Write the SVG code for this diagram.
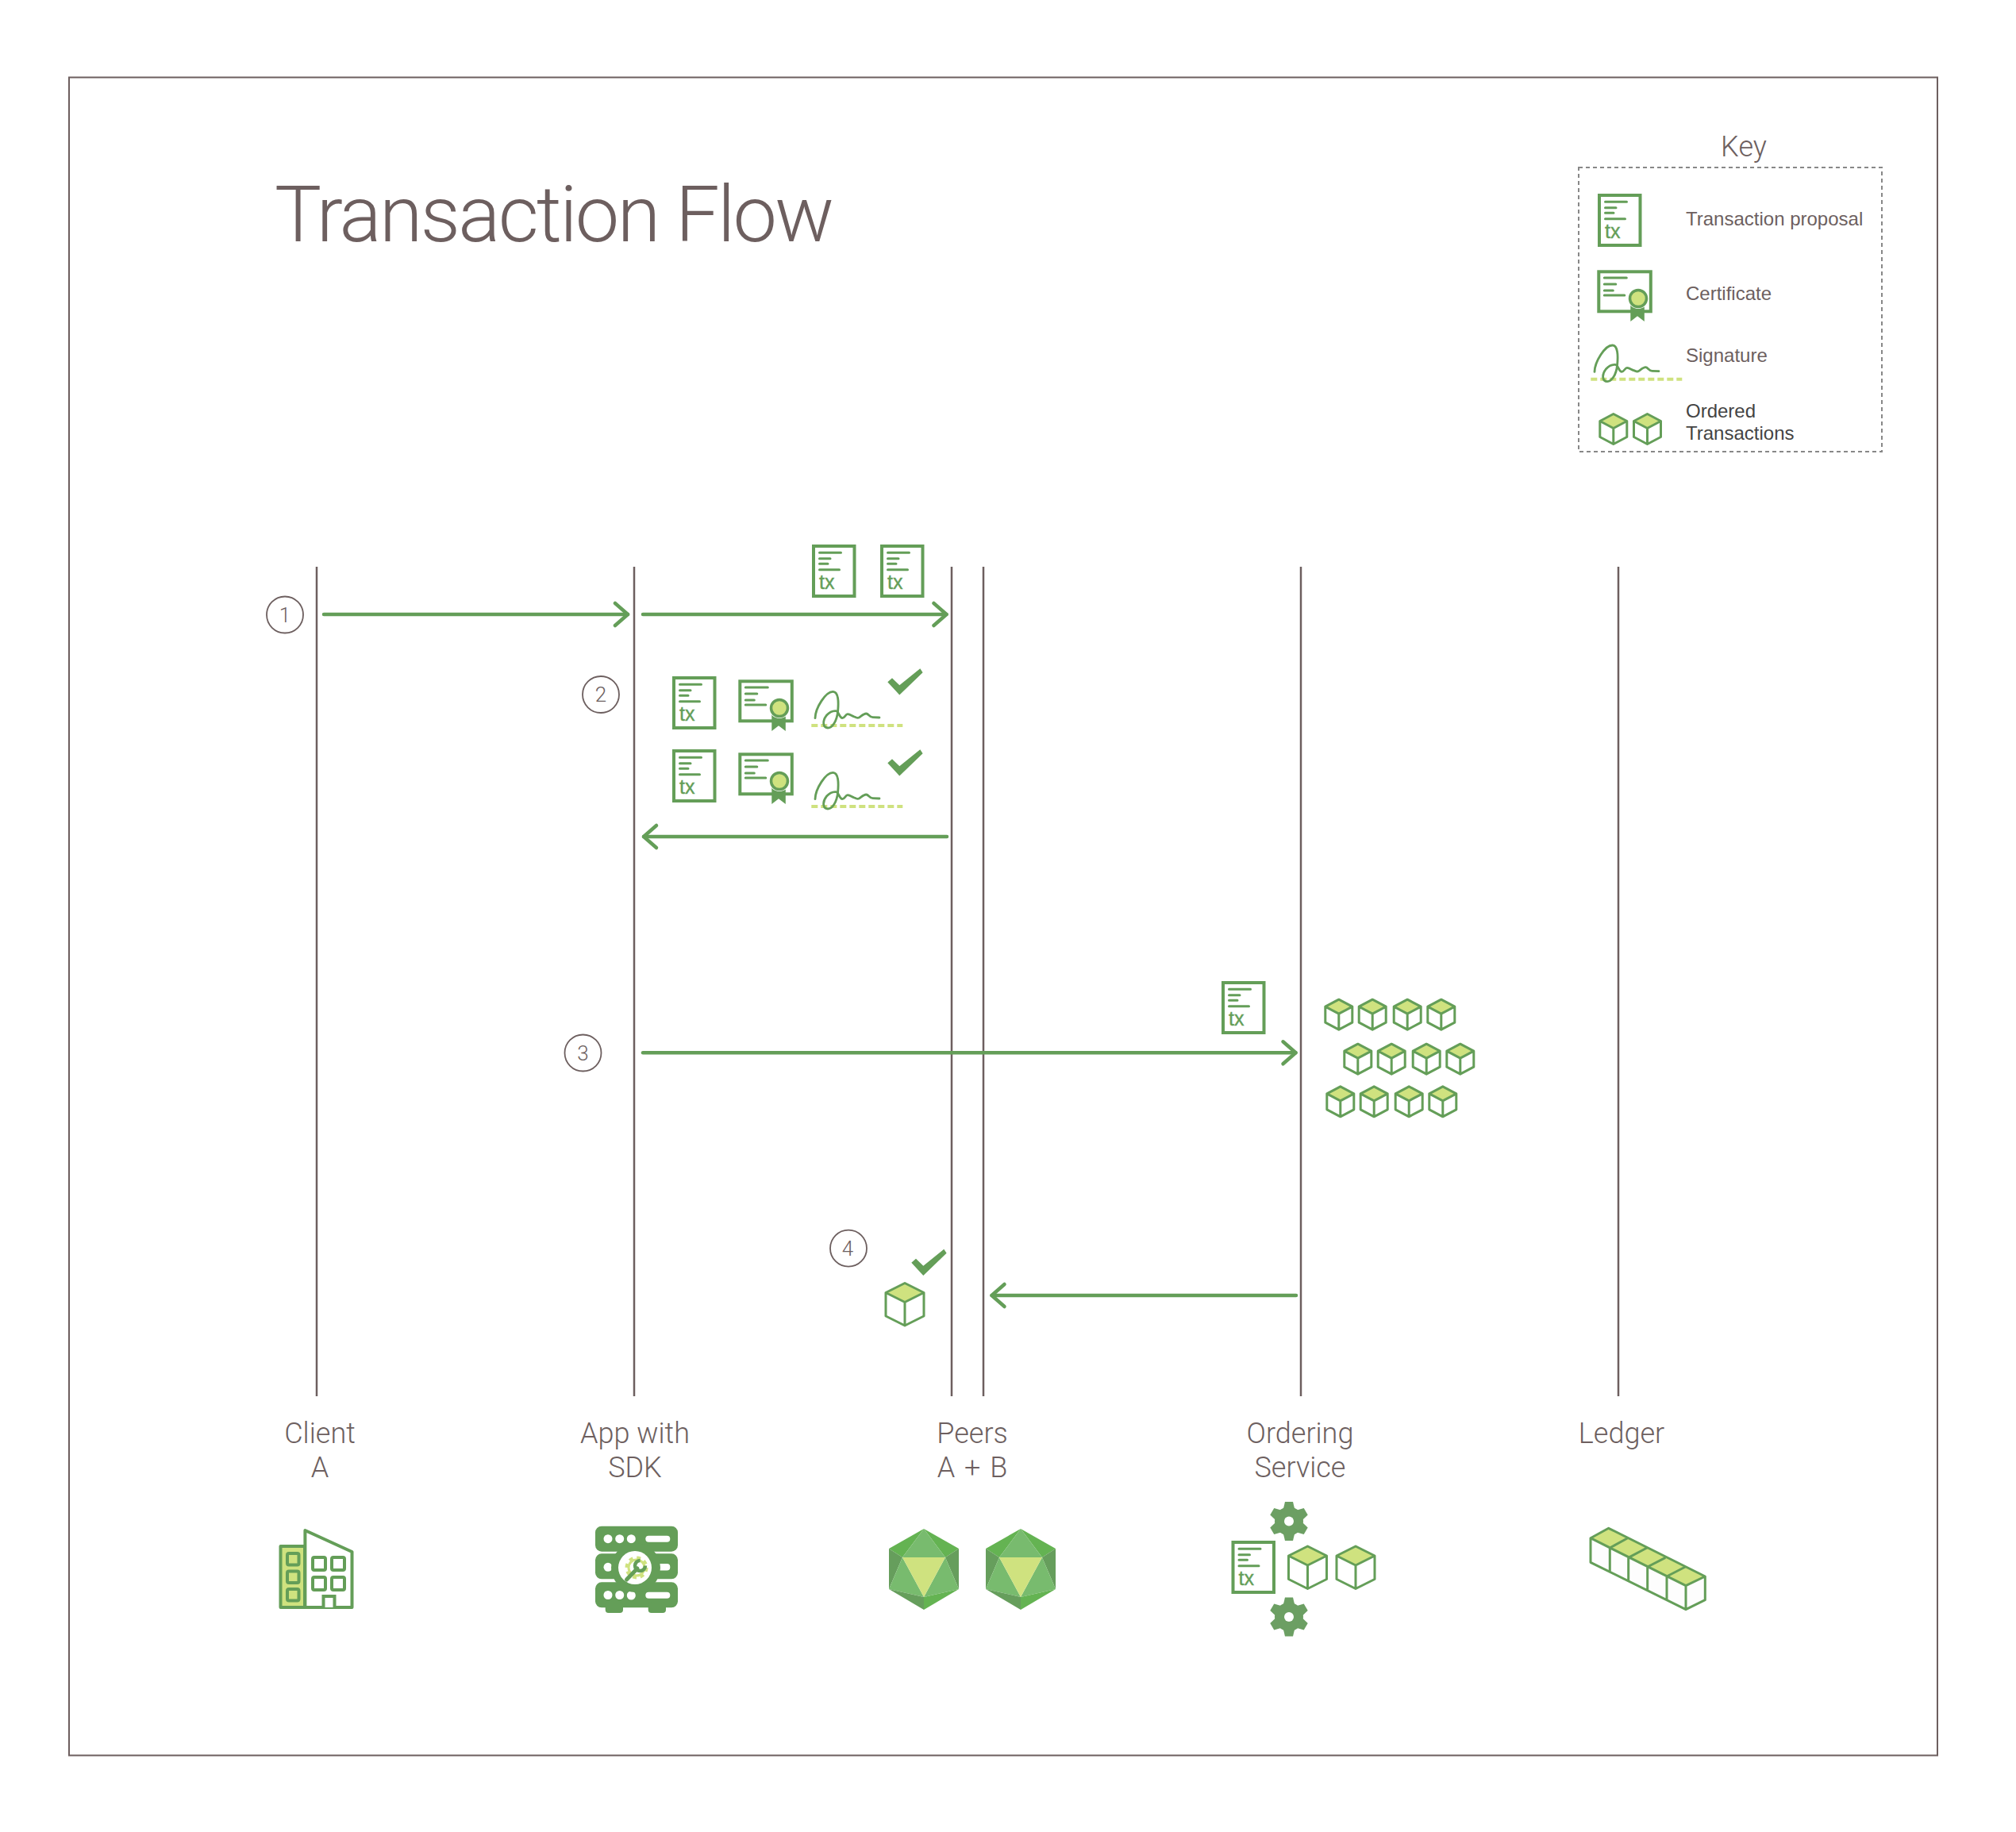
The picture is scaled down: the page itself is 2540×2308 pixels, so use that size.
<svg xmlns="http://www.w3.org/2000/svg" width="2540" height="2308" viewBox="0 0 2540 2308">
<style>
.lt{font-family:Roboto,"Liberation Sans",sans-serif;font-weight:300;fill:#6d5f5f}
.lab{font-size:36px;text-anchor:middle}
.key{font-family:"Liberation Sans",Arial,sans-serif;font-size:24px;fill:#6d5f5f}
.tx{font-family:"Liberation Sans",Arial,sans-serif;font-size:25px;fill:#649e58;stroke:#649e58;stroke-width:.4}
.num{font-size:26px;text-anchor:middle}
.life{stroke:#6d5f5f;stroke-width:2.5;fill:none}
.msg{stroke:#649e58;stroke-width:4.5;fill:none;stroke-linecap:round;marker-end:url(#arr)}
.ring{fill:#fff;stroke:#6d5f5f;stroke-width:1.8}
.s{fill:none;stroke:#649e58;stroke-width:4}
.t{fill:none;stroke:#649e58;stroke-width:3;stroke-linecap:round}
.g{fill:#649e58}
.w{fill:#fff}
.y{fill:#cfe27f}
</style>
<defs>
<marker id="arr" markerUnits="userSpaceOnUse" markerWidth="24" markerHeight="36" refX="20" refY="18" orient="auto" overflow="visible"><path d="M4,4 L20,18 L4,32" fill="none" stroke="#649e58" stroke-width="4.500" stroke-linecap="round" stroke-linejoin="round"/></marker>
<g id="txdoc"><rect x="2" y="2" width="51.500" height="63" class="s" fill="#fff"/><path class="t" d="M9.500,10.300H36.500M9.500,17.700H23M9.500,24.300H20M9.500,31.700H34.500"/></g>
<g id="cert"><rect x="2" y="2" width="65.500" height="50" class="s"/><path class="t" d="M9,9.700H37M9,17.700H23.500M9,25.700H20M9,31.700H34.500"/><path class="g" d="M42,40H59.500V64.700L50.700,58L42,64.700Z"/><circle cx="51.700" cy="35.700" r="13" class="w"/><circle cx="51.700" cy="35.700" r="10.500" class="y" stroke="#649e58" stroke-width="3.500"/></g>
<g id="sig"><path d="M0,0H115" fill="none" stroke="#cfe27f" stroke-width="4" stroke-dasharray="8 4"/><path fill="none" stroke="#649e58" stroke-width="2.800" stroke-linecap="round" d="M4.700,-9.300C5,-22 18,-43 27.300,-42.700C34,-42.500 34.500,-30 33.300,-17.700C32,-5 26,3 20.700,3C15,3 13,-5 19,-12.700C22,-16 27,-18.500 30.700,-18.300C35,-18 35,-9.500 39,-9.300C42,-9.300 43,-14.500 45.700,-14.300C49,-14 51,-12 54,-11C57,-10 58,-9 60,-10C63,-12 66,-15 69,-15C72,-15 73,-10.500 77.300,-10.300L85.700,-10"/></g>
<path id="chk" class="g" d="M0,0L5.700,-5L15,4L41,-17L44.300,-12L15,16.300Z"/>
<g id="cs"><path class="w" d="M18.500,1.500L35.500,10.500V30.500L18.500,39.500L1.500,30.500V10.500Z"/><path class="y" d="M18.500,1.500L35.500,10.500L18.500,19.500L1.500,10.500Z"/><path fill="none" stroke="#649e58" stroke-width="3" stroke-linejoin="round" d="M18.500,1.500L35.500,10.500V30.500L18.500,39.500L1.500,30.500V10.500ZM1.500,10.500L18.500,19.500L35.500,10.500M18.500,19.500V39.500"/></g>
<g id="cl"><path class="w" d="M25,1.500L49,13.500V43L25,55L1,43V13.500Z"/><path class="y" d="M25,1.500L49,13.500L25,25.500L1,13.500Z"/><path fill="none" stroke="#649e58" stroke-width="3" stroke-linejoin="round" d="M25,1.500L49,13.500V43L25,55L1,43V13.500ZM1,13.500L25,25.500L49,13.500M25,25.500V55"/></g>
<polygon id="tooth" points="-7.500,-14 -5,-24.500 5,-24.500 7.500,-14" fill="#6c9f63"/>
<g id="gear"><circle r="18" fill="#6c9f63"/><use href="#tooth"/><use href="#tooth" transform="rotate(60)"/><use href="#tooth" transform="rotate(120)"/><use href="#tooth" transform="rotate(180)"/><use href="#tooth" transform="rotate(240)"/><use href="#tooth" transform="rotate(300)"/><circle r="6" class="w"/></g>
<g id="peer"><path fill="#64b352" d="M0,0L-44,25L-27,36ZM0,0L44,25L27,36Z"/><path fill="#78bb6e" d="M0,0L27,36H-27Z"/><path fill="#669e5c" d="M-44,25L-27,36L-44,76ZM44,25L27,36L44,76Z"/><path fill="#78bb6e" d="M-27,36L0,86L-44,76ZM27,36L0,86L44,76Z"/><path fill="#cfe27f" d="M-27,36H27L0,86Z"/><path fill="#669e5c" d="M-44,76L0,86V102Z"/><path fill="#64b352" d="M44,76L0,86V102Z"/></g>
</defs>
<rect id="frame" x="87" y="97.500" width="2354" height="2114" fill="#fff" stroke="#6d5f5f" stroke-width="2"/>
<text class="lt" x="346" y="304" font-size="99" textLength="705" lengthAdjust="spacing">Transaction Flow</text>

<g id="key">
<text class="lt" x="2197" y="197" font-size="36" text-anchor="middle">Key</text>
<rect x="1989" y="211" width="382" height="358" fill="none" stroke="#888" stroke-width="2" stroke-dasharray="5 4"/>
<use href="#txdoc" x="2013" y="244"/><text class="tx" x="2022" y="300">tx</text>
<text class="key" x="2124" y="284">Transaction proposal</text>
<use href="#cert" x="2012.300" y="340.300"/>
<text class="key" x="2124" y="378">Certificate</text>
<use href="#sig" x="2004.300" y="477.700"/>
<text class="key" x="2124" y="456">Signature</text>
<use href="#cs" x="2014.300" y="520"/><use href="#cs" x="2057" y="520"/>
<text class="key" x="2124" y="526" style="fill:#444">Ordered</text>
<text class="key" x="2124" y="554" style="fill:#444">Transactions</text>
</g>

<g id="connectors">
<path class="life" d="M399,714V1759M799,714V1759M1199,714V1759M1239,714V1759M1639,714V1759M2039,714V1759"/>
<path class="msg" d="M408,774H791"/>
<path class="msg" d="M810,774H1192.500"/>
<path class="msg" d="M1193,1054H811"/>
<path class="msg" d="M810,1326.300H1632.500"/>
<path class="msg" d="M1633,1632H1249.500"/>
</g>

<g id="step-1"><circle class="ring" cx="359" cy="774.500" r="23"/><text class="lt num" x="359" y="783.500">1</text></g>
<g id="step-2"><circle class="ring" cx="757" cy="875" r="23"/><text class="lt num" x="757" y="884">2</text></g>
<g id="step-3"><circle class="ring" cx="734.500" cy="1326.500" r="23"/><text class="lt num" x="734.500" y="1335.500">3</text></g>
<g id="step-4"><circle class="ring" cx="1069" cy="1572.700" r="23"/><text class="lt num" x="1068" y="1581.700">4</text></g>

<g id="msg-1-proposals">
<use href="#txdoc" x="1023" y="686"/><text class="tx" x="1032" y="742">tx</text>
<use href="#txdoc" x="1109" y="686"/><text class="tx" x="1118" y="742">tx</text>
</g>
<g id="msg-2-endorsements">
<use href="#txdoc" x="847" y="852"/><text class="tx" x="856" y="908">tx</text>
<use href="#cert" x="930.300" y="856.300"/><use href="#sig" x="1022.300" y="914"/><use href="#chk" x="1118.300" y="859.300"/>
<use href="#txdoc" x="847" y="944"/><text class="tx" x="856" y="1000">tx</text>
<use href="#cert" x="930.300" y="948.300"/><use href="#sig" x="1022.300" y="1016"/><use href="#chk" x="1118.300" y="961.300"/>
</g>
<g id="msg-3-ordering">
<use href="#txdoc" x="1539" y="1236"/><text class="tx" x="1548" y="1292">tx</text>
<use href="#cs" x="1668.300" y="1257.700"/><use href="#cs" x="1710.700" y="1257.700"/><use href="#cs" x="1754.700" y="1257.700"/><use href="#cs" x="1797.300" y="1257.700"/>
<use href="#cs" x="1692.300" y="1313.700"/><use href="#cs" x="1734.700" y="1313.700"/><use href="#cs" x="1778.700" y="1313.700"/><use href="#cs" x="1821.300" y="1313.700"/>
<use href="#cs" x="1670.300" y="1367.300"/><use href="#cs" x="1712.700" y="1367.300"/><use href="#cs" x="1756.700" y="1367.300"/><use href="#cs" x="1799.300" y="1367.300"/>
</g>
<g id="msg-4-block">
<use href="#chk" x="1148.300" y="1590.700"/><use href="#cl" x="1115" y="1615"/>
</g>

<g id="client">
<text class="lt lab" x="403" y="1818">Client</text><text class="lt lab" x="403" y="1861">A</text>
<path d="M353.500,1948H384V2025H353.500Z" class="y" stroke="#649e58" stroke-width="4" stroke-linejoin="round"/>
<path d="M384.400,1928L443.500,1955V2025H384.400Z" fill="#fff" stroke="#649e58" stroke-width="4" stroke-linejoin="round"/>
<g class="y" stroke="#649e58" stroke-width="4"><rect x="362" y="1957" width="14.500" height="14.500" rx="2"/><rect x="362" y="1979.500" width="14.500" height="14.500" rx="2"/><rect x="362" y="2002" width="14.500" height="14.500" rx="2"/></g>
<g fill="#fff" stroke="#649e58" stroke-width="4"><rect x="394" y="1962" width="16" height="16" rx="2"/><rect x="418" y="1962" width="16" height="16" rx="2"/><rect x="394" y="1987" width="16" height="16" rx="2"/><rect x="418" y="1987" width="16" height="16" rx="2"/><path d="M407.500,2025V2011H421.500V2025"/></g>
</g>

<g id="app">
<text class="lt lab" x="800" y="1818">App with</text><text class="lt lab" x="800" y="1861">SDK</text>
<g class="g"><rect x="750" y="1922.700" width="104" height="32" rx="8"/><rect x="750" y="1957.300" width="104" height="32" rx="8"/><rect x="750" y="1993.300" width="104" height="32" rx="8"/><rect x="762.700" y="2018" width="22.300" height="14" rx="4"/><rect x="816.700" y="2018" width="22.300" height="14" rx="4"/></g>
<g class="w"><circle cx="766" cy="1938.700" r="5.500"/><circle cx="780.700" cy="1938.700" r="5.500"/><circle cx="795.300" cy="1938.700" r="5.500"/><rect x="813.300" y="1934.700" width="31" height="8" rx="4"/><circle cx="766" cy="1974.300" r="5.500"/><rect x="820" y="1970" width="24.300" height="8.500" rx="4"/><circle cx="766" cy="2009.500" r="5.500"/><circle cx="780.700" cy="2009.500" r="5.500"/><circle cx="795.300" cy="2010" r="5.500"/><rect x="813.300" y="2005.700" width="31" height="8" rx="4"/></g>
<circle cx="801" cy="1975" r="31" fill="#649e58"/><circle cx="800" cy="1975" r="21" class="w"/>
<circle cx="802" cy="1975" r="12" fill="none" stroke="#cfe27f" stroke-width="5" stroke-dasharray="4.700 4.700"/>
<circle cx="802" cy="1975" r="10" fill="none" stroke="#cfe27f" stroke-width="3"/>
<path d="M789.500,1990L803,1976" stroke="#649e58" stroke-width="5" stroke-linecap="round"/>
<path d="M806.500,1966A6.500,6.500 0 1 0 813,1972.500" fill="none" stroke="#649e58" stroke-width="4.500"/>
</g>

<g id="peers">
<text class="lt lab" x="1225" y="1818">Peers</text><text class="lt lab" x="1225" y="1861" word-spacing="3">A + B</text>
<use href="#peer" x="1164" y="1926"/><use href="#peer" x="1286" y="1926"/>
</g>

<g id="ordering">
<text class="lt lab" x="1638" y="1818">Ordering</text><text class="lt lab" x="1638" y="1861">Service</text>
<use href="#gear" x="1624" y="1916.500"/><use href="#gear" x="1624" y="2037"/>
<use href="#txdoc" x="1551.500" y="1941"/><text class="tx" x="1560.500" y="1997">tx</text>
<use href="#cl" x="1622.500" y="1946.500"/><use href="#cl" x="1683" y="1946.500"/>
</g>

<g id="ledger">
<text class="lt lab" x="2043" y="1818">Ledger</text>
<path d="M2004,1937.700L2026.700,1925.300L2148.300,1986V2015.700L2124,2027.700L2004,1968.300Z" fill="#fdfdfd"/>
<path class="y" d="M2004,1937.700L2026.700,1925.300L2148.300,1986L2124,1997.700Z"/>
<path fill="none" stroke="#649e58" stroke-width="3" stroke-linejoin="round" d="M2004,1937.700L2026.700,1925.300L2148.300,1986V2015.700L2124,2027.700L2004,1968.300ZM2004,1937.700L2124,1997.700L2148.300,1986M2124,1997.700V2027.700M2028.300,1950L2050.700,1937.700M2051.700,1962.300L2075,1950M2075.700,1974L2098.300,1962.300M2100,1986L2123.300,1974M2028.300,1950V1980M2051.700,1962.300V1991.700M2075.700,1974V2004M2100,1986V2016"/>
</g>
</svg>
